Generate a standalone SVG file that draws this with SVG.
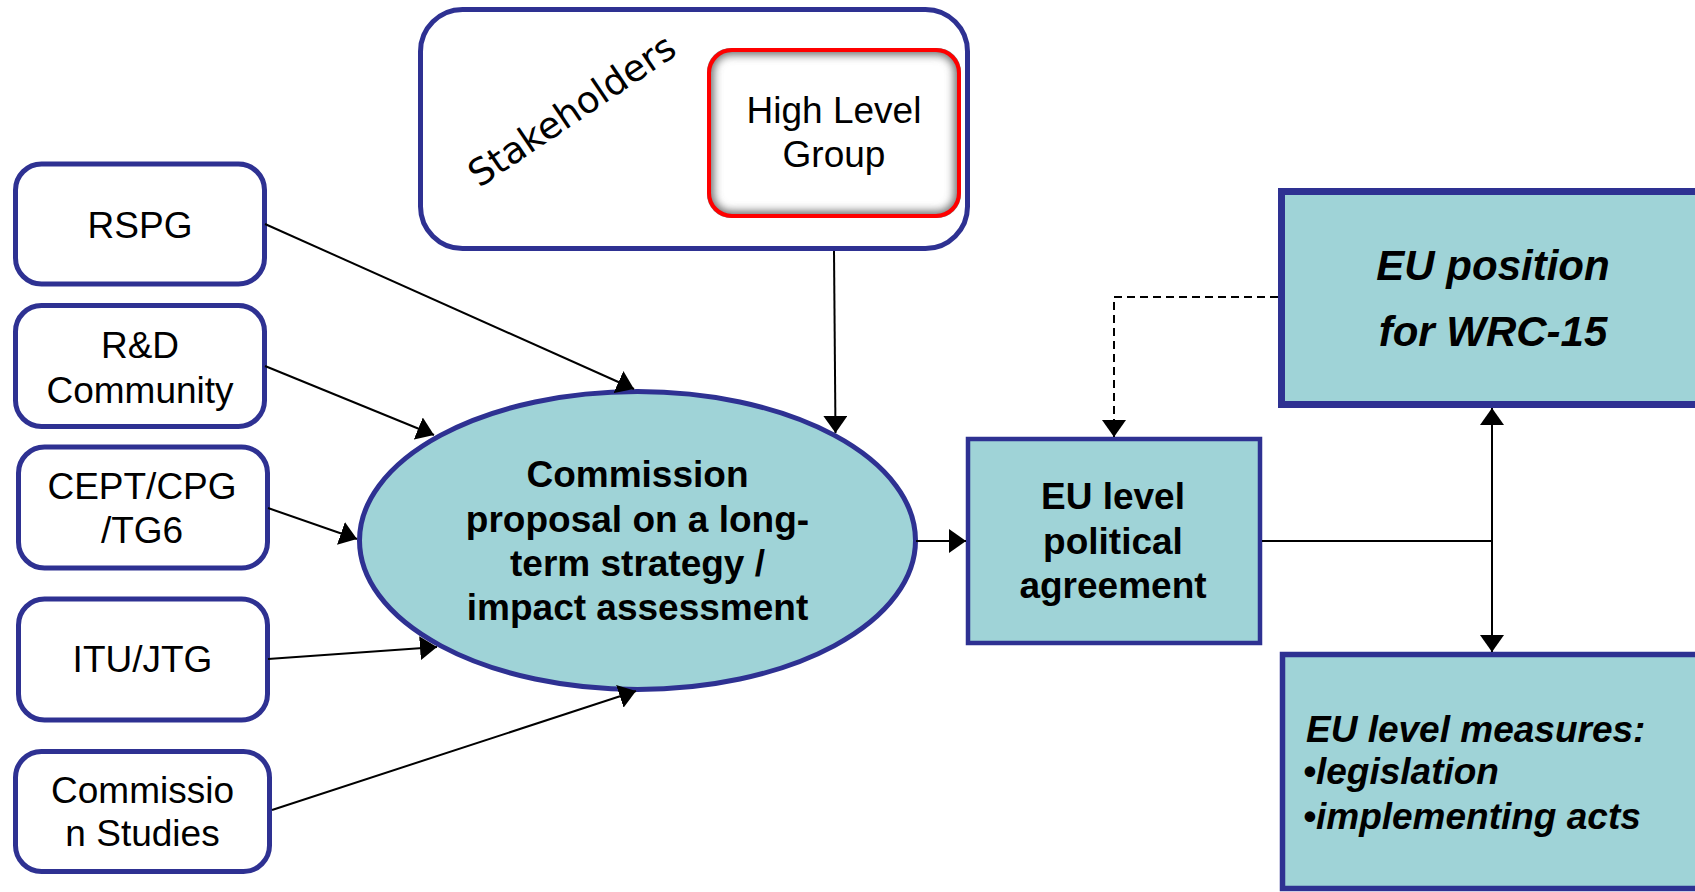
<svg xmlns="http://www.w3.org/2000/svg" width="1695" height="892" viewBox="0 0 1695 892">
<style>
.box{fill:#FFFFFF;stroke:#2E3192;stroke-width:5}
.teal{fill:#9FD3D7;stroke:#2E3192}
.lbl{font-family:"Liberation Sans",Arial,sans-serif;font-size:37px;fill:#000;text-anchor:middle}
.bold{font-family:"Liberation Sans",Arial,sans-serif;font-weight:bold;font-size:37px;fill:#000;text-anchor:middle}
.bi{font-family:"Liberation Sans",Arial,sans-serif;font-weight:bold;font-style:italic;fill:#000}
.con{fill:none;stroke:#000;stroke-width:2}
.dash{stroke-dasharray:8 5}
</style>
<defs>
<marker id="arr" viewBox="0 0 17 24" refX="17" refY="12" markerWidth="17" markerHeight="24" markerUnits="userSpaceOnUse" orient="auto-start-reverse">
<path d="M0,0 L17,12 L0,24 Z" fill="#000"/>
</marker>
<clipPath id="hlgClip"><rect x="707" y="48" width="254" height="170" rx="24"/></clipPath>
<filter id="blur" x="-10%" y="-10%" width="120%" height="120%"><feGaussianBlur stdDeviation="4.5"/></filter>
</defs>
<rect width="1695" height="892" fill="#FFFFFF"/>

<g id="stakeholders">
<rect class="box" x="420.5" y="9.5" width="547" height="239" rx="42"/>
<text transform="translate(579,121) rotate(-34)" style="font-family:'DejaVu Sans',Verdana,sans-serif;font-size:37px;fill:#000;text-anchor:middle">Stakeholders</text>
</g>

<g id="hlg">
<rect x="707" y="48" width="254" height="170" rx="24" fill="#FFFFFF"/>
<g clip-path="url(#hlgClip)">
<rect x="707" y="48" width="254" height="170" rx="24" fill="none" stroke="#707070" stroke-width="14" filter="url(#blur)"/>
</g>
<rect x="709" y="50" width="250" height="166" rx="23" fill="none" stroke="#FF0000" stroke-width="4"/>
<text class="lbl" x="834" y="123">High Level</text>
<text class="lbl" x="834" y="167">Group</text>
</g>

<g id="rspg">
<rect class="box" x="15.5" y="164" width="249" height="120" rx="26"/>
<text class="lbl" x="140" y="238">RSPG</text>
</g>
<g id="rnd">
<rect class="box" x="15.5" y="305.5" width="249" height="121" rx="26"/>
<text class="lbl" x="140" y="358">R&amp;D</text>
<text class="lbl" x="140" y="403">Community</text>
</g>
<g id="cept">
<rect class="box" x="18.5" y="447" width="249" height="121" rx="26"/>
<text class="lbl" x="142" y="499">CEPT/CPG</text>
<text class="lbl" x="142" y="543">/TG6</text>
</g>
<g id="itu">
<rect class="box" x="18.5" y="599" width="249" height="121" rx="26"/>
<text class="lbl" x="142.5" y="672">ITU/JTG</text>
</g>
<g id="studies">
<rect class="box" x="15.5" y="751.5" width="254" height="120" rx="26"/>
<text class="lbl" x="142.5" y="803">Commissio</text>
<text class="lbl" x="142.5" y="846">n Studies</text>
</g>

<g id="proposal">
<ellipse class="teal" cx="637.5" cy="540.5" rx="278" ry="149" stroke-width="5"/>
<text class="bold" x="637.5" y="487">Commission</text>
<text class="bold" x="637.5" y="532">proposal on a long-</text>
<text class="bold" x="637.5" y="576">term strategy /</text>
<text class="bold" x="637.5" y="620">impact assessment</text>
</g>

<g id="agreement">
<rect class="teal" x="968" y="439" width="292" height="204" stroke-width="4.5"/>
<text class="bold" x="1113" y="509">EU level</text>
<text class="bold" x="1113" y="554">political</text>
<text class="bold" x="1113" y="598">agreement</text>
</g>

<g id="position">
<rect class="teal" x="1281.5" y="191.5" width="450" height="213" stroke-width="7"/>
<text class="bi" x="1493" y="280" font-size="42" text-anchor="middle">EU position</text>
<text class="bi" x="1493" y="346" font-size="42" text-anchor="middle">for WRC-15</text>
</g>

<g id="measures">
<rect class="teal" x="1282.5" y="654.5" width="450" height="234" stroke-width="5.5"/>
<text class="bi" x="1306" y="742" font-size="37">EU level measures:</text>
<text class="bi" x="1303" y="784" font-size="37">•legislation</text>
<text class="bi" x="1303" y="829" font-size="37">•implementing acts</text>
</g>

<g id="connectors">
<line class="con" x1="265" y1="224" x2="634" y2="389" marker-end="url(#arr)"/>
<line class="con" x1="265" y1="366" x2="434" y2="435" marker-end="url(#arr)"/>
<line class="con" x1="268" y1="508" x2="357" y2="539" marker-end="url(#arr)"/>
<line class="con" x1="268" y1="659" x2="437" y2="647" marker-end="url(#arr)"/>
<line class="con" x1="272" y1="810" x2="636" y2="691" marker-end="url(#arr)"/>
<line class="con" x1="834" y1="251" x2="835.5" y2="433" marker-end="url(#arr)"/>
<line class="con" x1="916" y1="541" x2="966" y2="541" marker-end="url(#arr)"/>
<polyline class="con dash" points="1278,297 1114,297 1114,437" marker-end="url(#arr)"/>
<line class="con" x1="1262" y1="541" x2="1492" y2="541"/>
<line class="con" x1="1492" y1="408" x2="1492" y2="652" marker-start="url(#arr)" marker-end="url(#arr)"/>
</g>
</svg>
